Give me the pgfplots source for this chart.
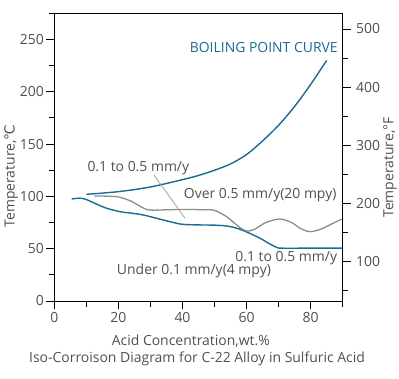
\documentclass[border=0pt]{standalone}
\usepackage{pgfplots}
\pgfplotsset{compat=1.18}
\usepackage{fontspec}
\setmainfont{Open Sans}
\newfontfamily\dejavu{DejaVu Sans}
\definecolor{bpblue}{HTML}{1B6A93}
\definecolor{cgray}{HTML}{8C8C8C}
\definecolor{lgray}{HTML}{A0A0A0}
\definecolor{tgray}{HTML}{505050}
\begin{document}
\begin{tikzpicture}[font=\fontsize{14}{16}\selectfont]
\useasboundingbox (-54.3bp,-78bp) rectangle (344.7bp,301bp);
\begin{axis}[
  scale only axis, width=288.4bp, height=287.7bp,
  at={(0,0)}, anchor=south west,
  xmin=0, xmax=90, ymin=0, ymax=275,
  xtick pos=bottom, ytick pos=left,
  tick align=outside,
  major tick length=8bp, minor tick length=5.5bp,
  xtick={0,20,...,80}, minor xtick={10,30,...,90},
  ytick={0,50,...,250}, minor ytick={25,75,...,275},
  axis line style={line width=1bp, black},
  every tick/.style={black, line width=0.9bp},
  tick label style={text=tgray, font=\fontsize{14}{16}\selectfont},
  yticklabel style={xshift=1bp},
  /pgf/number format/assume math mode=true,
  clip=false,
]
\addplot[bpblue, line width=1.4bp, smooth] coordinates {
 (10,102)(20,104.5)(30,109)(40,116)(45,120)(50,125)(55,131)(60,140)(65,153)(70,168)(75,186)(80,207)(85,230)};
\addplot[bpblue, line width=1.4bp, smooth, tension=0.5] coordinates {
 (5.4,97.5)(8,98.3)(10,97)(12.2,94)(16,89)(20.5,85.4)(24,84)(27.8,82.2)(32,79)(36.1,75.8)(40,73.3)(45.5,72.7)(50,72.5)(53.8,71.7)(57,69.5)(60,66)(64.2,60)(67,55)(69.4,51.3)(71,50.5)(80,50.5)(90,50.5)};
\addplot[cgray, line width=1.3bp, smooth, tension=0.5] coordinates {
 (12.5,100.4)(19.5,99.7)(23.6,95.9)(26.5,91)(28.8,87.5)(31,86.8)(33,87)(40,87.5)(45.5,87.3)(49.6,87)(51.5,84.5)(53.8,80.6)(56,75)(58.5,69)(60.3,66.8)(62.5,68.5)(66,75)(70.4,78.4)(74,75)(77,69)(79.8,66.3)(83,68.5)(86.5,73.5)(89.7,78.4)};
\addplot[lgray, line width=0.8bp] coordinates {(31.1,120.5)(40.8,79)};
\node[anchor=base east, inner sep=0, text=bpblue] at (axis cs:88.5,237.1) {BOILING POINT CURVE};
\node[anchor=base west, inner sep=0, text=tgray] at (axis cs:10.3,123.6) {0.1 to 0.5 mm/y};
\node[anchor=base east, inner sep=0, text=tgray] at (axis cs:88.1,98.2) {Over 0.5 mm/y(20 mpy)};
\node[anchor=base east, inner sep=0, text=tgray] at (axis cs:88.3,37.6) {0.1 to 0.5 mm/y};
\node[anchor=base west, inner sep=0, text=tgray] at (axis cs:19.5,25.5) {Under 0.1 mm/y(4 mpy)};
\end{axis}
\begin{axis}[
  scale only axis, width=288.4bp, height=287.7bp,
  at={(0,0)}, anchor=south west,
  xmin=0, xmax=90, ymin=32, ymax=527,
  axis x line=none, axis y line*=right,
  tick align=outside,
  major tick length=8bp, minor tick length=5.5bp,
  ytick={100,200,...,500}, minor ytick={50,150,...,450},
  axis line style={line width=1bp, black},
  every tick/.style={black, line width=0.9bp},
  tick label style={text=tgray, font=\fontsize{14}{16}\selectfont},
  yticklabel style={xshift=2bp},
  /pgf/number format/assume math mode=true,
]
\end{axis}
\node[rotate=90, inner sep=0, text=tgray] at (-43.3bp,125bp) {Temperature,{\dejavu ℃}};
\node[rotate=90, inner sep=0, text=tgray] at (335.7bp,133.5bp) {Temperature,°F};
\node[anchor=base, inner sep=0, text=tgray] at (136.5bp,-44bp) {Acid Concentration,wt.\%};
\node[anchor=base, inner sep=0, text=tgray] at (142.7bp,-61.7bp) {Iso-Corroison Diagram for C-22 Alloy in Sulfuric Acid};
\end{tikzpicture}
\end{document}
